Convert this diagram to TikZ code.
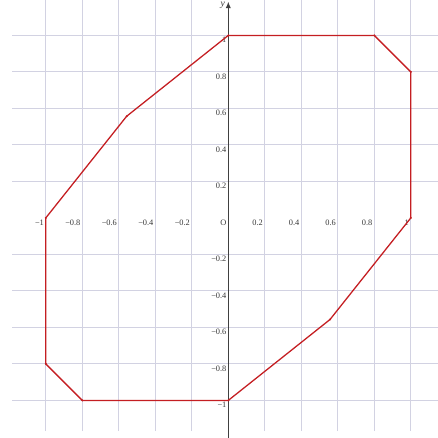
\documentclass[tikz,border=0pt]{standalone}
\usepackage{amsmath,amssymb}
\usepackage{fontspec}
\usepackage{tikz}
\usetikzlibrary{arrows.meta}
\newfontfamily\ticksfont{Liberation Serif}
\definecolor{gridc}{RGB}{210,210,226}
\definecolor{curvec}{RGB}{196,30,34}
\definecolor{labc}{RGB}{55,55,55}

\begin{document}
\begin{tikzpicture}[x=4cm,y=4cm,>={Latex[length=4pt,width=3.2pt]},
  gridline/.style={gridc,line width=0.6pt},
  tick/.style={font=\ticksfont\fontsize{5.2}{6}\selectfont,text=labc,inner sep=1pt,anchor=north east},
  curve/.style={curvec,line width=0.8pt,line join=round}]
  \useasboundingbox (-1.251,-1.202) rectangle (1.149,1.194);
  \foreach \k in {-5,...,-1,1,2,...,5}
    \draw[gridline] ({\k/5},-1.169) -- ({\k/5},1.2);
  \foreach \k in {-5,...,-1,1,2,...,5}
    \draw[gridline] (-1.184,{\k/5}) -- (1.2,{\k/5});
  \draw[->,black!75,line width=0.6pt] (0,-1.21) -- (0,1.185);
  \node[font=\ticksfont\itshape\fontsize{6}{7}\selectfont,text=labc,inner sep=0pt] (ylab) at (-0.03,1.163) {y};
  % tick labels
  \node[tick] (orig) at (0,0) {O};
  \foreach \k/\t in {-5/−1,-4/−0.8,-3/−0.6,-2/−0.4,-1/−0.2,1/0.2,2/0.4,3/0.6,4/0.8,5/1}
    \node[tick] (xl\k) at ({\k/5},0) {\t};
  \foreach \k/\t in {-5/−1,-4/−0.8,-3/−0.6,-2/−0.4,-1/−0.2,1/0.2,2/0.4,3/0.6,4/0.8,5/1}
    \node[tick] (yl\k) at (0,{\k/5}) {\t};
  % the closed curve
  \coordinate (p1) at (0,1);
  \coordinate (p2) at (0.8,1);
  \coordinate (p3) at (1,0.8);
  \coordinate (p4) at (1,0);
  \coordinate (p5) at (0.557,-0.557);
  \coordinate (p6) at (0,-1);
  \coordinate (p7) at (-0.8,-1);
  \coordinate (p8) at (-1,-0.8);
  \coordinate (p9) at (-1,0);
  \coordinate (p10) at (-0.557,0.557);
  \draw[curve] (p1) -- (p2) -- (p3) -- (p4) -- (p5) -- (p6) -- (p7) -- (p8) -- (p9) -- (p10) -- cycle;
  \foreach \p in {p1,p2,p3,p4,p5,p6,p7,p8,p9,p10}
    \fill[curvec] (\p) circle (0.7pt);
\end{tikzpicture}
\end{document}
